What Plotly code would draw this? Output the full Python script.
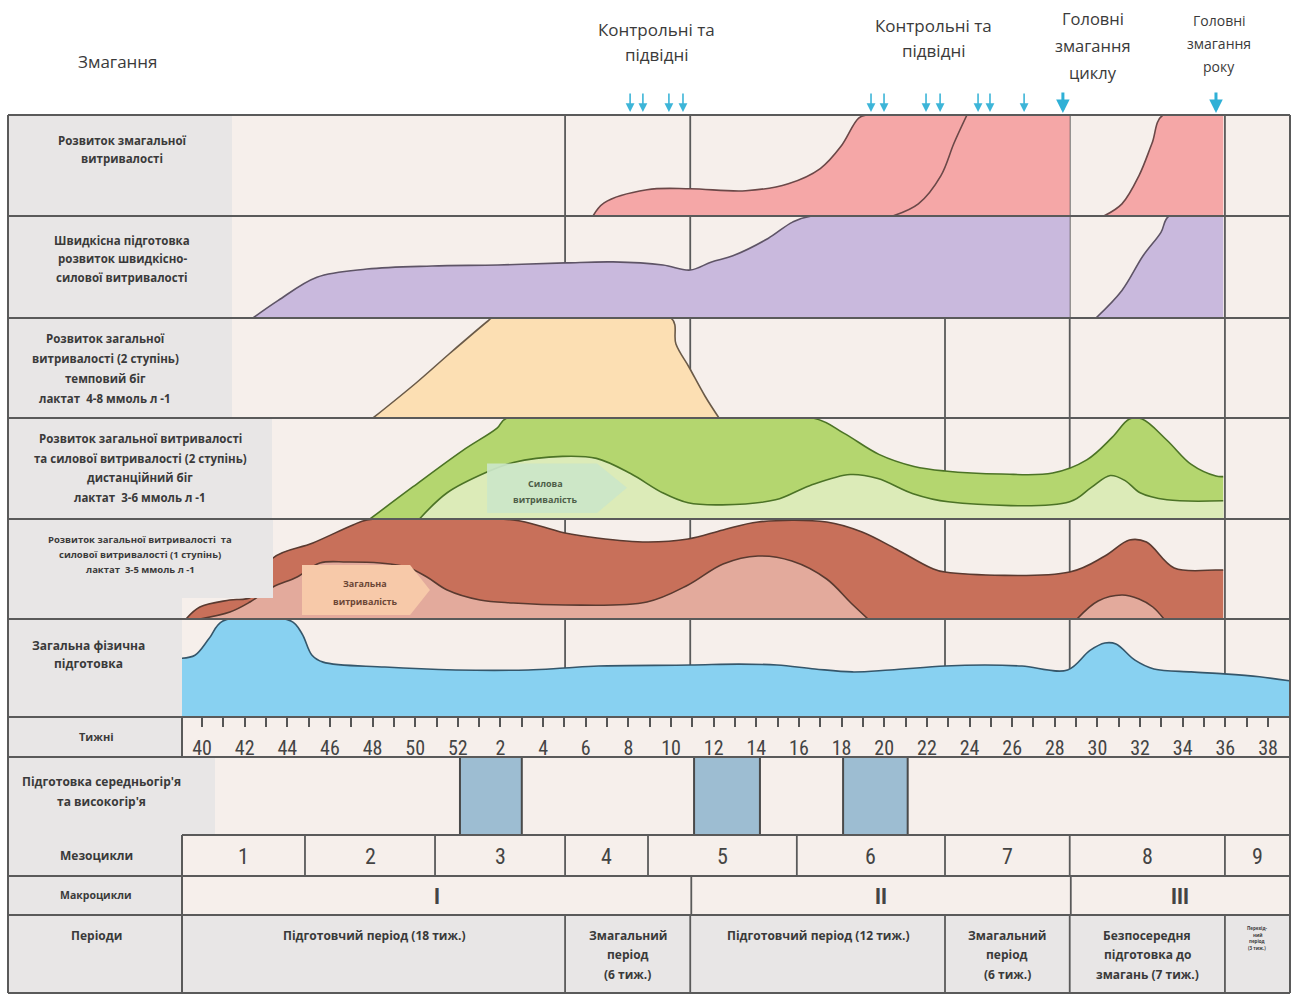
import plotly.graph_objects as go

W, H = 1294, 994

# x = week index: 0 = week 40, 12 = week 52, 14 = week 2 ... 50 = week 38
tick_vals = list(range(0, 51, 2))
tick_text = ["40", "42", "44", "46", "48", "50", "52",
             "2", "4", "6", "8", "10", "12", "14", "16", "18", "20",
             "22", "24", "26", "28", "30", "32", "34", "36", "38"]

# competitions (arrows)
control_x = [20.08, 20.68, 21.9, 22.56, 31.38, 31.99, 33.96, 34.62, 36.4, 36.96, 38.56]
main_x = [40.38, 47.56]

# row 1 - competitive endurance
comp_x = [18.34, 18.86, 20.87, 22.9, 25.5, 27.5, 29.0, 29.97, 30.8, 31.2, 40.7]
comp_y = [0, 0.13, 0.26, 0.27, 0.25, 0.32, 0.47, 0.69, 0.97, 1.0, 1.0]
comp_split_x = [32.4, 33.6, 34.66, 35.27, 35.88]
comp_split_y = [0, 0.12, 0.40, 0.72, 1.0]
comp2_x = [42.3, 43.15, 43.95, 44.56, 45.07, 47.9]
comp2_y = [0, 0.12, 0.40, 0.72, 1.0, 1.0]

# row 2 - speed / speed-strength endurance
speed_x = [2.39, 3.56, 5.39, 7.74, 10.79, 13.88, 17.03, 19.28, 21.62, 22.9, 23.9,
           24.9, 26.55, 27.7, 28.6, 40.7]
speed_y = [0, 0.17, 0.40, 0.48, 0.51, 0.52, 0.54, 0.55, 0.52, 0.47, 0.55,
           0.61, 0.78, 0.94, 1.0, 1.0]
speed2_x = [41.93, 43.15, 44.14, 44.98, 45.36, 47.9]
speed2_y = [0, 0.27, 0.61, 0.84, 1.0, 1.0]

# row 3 - tempo run
tempo_x = [8.02, 10.04, 11.59, 13.41, 13.6, 22.0, 22.23, 22.84, 23.59, 24.25]
tempo_y = [0, 0.35, 0.64, 0.97, 1.0, 1.0, 0.74, 0.51, 0.22, 0]

# row 4 - distance run (outer) and strength endurance (inner)
dist_x = [7.88, 9.9, 12.24, 13.84, 14.3, 28.66, 30.1, 31.75, 33.4, 34.85, 37.5, 39.9,
          41.5, 42.7, 43.5, 44.1, 45.26, 46.4, 47.56, 47.9]
dist_y = [0, 0.32, 0.68, 0.90, 1.0, 1.0, 0.85, 0.64, 0.52, 0.475, 0.445, 0.455,
          0.585, 0.81, 0.99, 0.99, 0.78, 0.54, 0.425, 0.42]
str_x = [10.2, 11.5, 13.37, 14.6, 16.9, 18.5, 20.1, 21.6, 22.8, 24.4, 26.9, 28.5,
         30.4, 31.7, 33.35, 35.0, 40.7, 41.7, 42.6, 43.3, 44.0, 45.26, 47.9]
str_y = [0, 0.26, 0.465, 0.56, 0.62, 0.60, 0.45, 0.26, 0.16, 0.14, 0.19, 0.33,
         0.44, 0.40, 0.25, 0.17, 0.17, 0.31, 0.43, 0.38, 0.26, 0.19, 0.18]

# row 5 - general endurance 1st stage (outer) and general endurance (inner)
gen_x = [-0.75, -0.1, 1.3, 2.3, 3.33, 5.2, 7.08, 7.74, 14.59, 16.18, 17.03, 18.53,
         20.87, 22.8, 24.44, 26.08, 29.3, 30.96, 32.55, 34.2, 34.85, 40.7, 42.35,
         43.5, 44.3, 45.6, 47.56, 47.9]
gen_y = [0, 0.12, 0.19, 0.22, 0.61, 0.76, 0.94, 0.99, 0.99, 0.91, 0.86, 0.81,
         0.77, 0.80, 0.89, 0.97, 0.97, 0.87, 0.70, 0.51, 0.47, 0.47, 0.63,
         0.79, 0.77, 0.51, 0.49, 0.49]
gen_in_x = [-0.1, 1.31, 2.25, 3.33, 4.46, 5.53, 6.8, 8.35, 9.6, 10.55, 11.5, 13.04,
            14.6, 17.03, 20.87, 22.8, 24.44, 26.08, 27.67, 29.3, 30.44, 31.24]
gen_in_y = [0, 0.07, 0.17, 0.32, 0.42, 0.56, 0.57, 0.56, 0.52, 0.42, 0.29, 0.19,
            0.16, 0.14, 0.17, 0.34, 0.55, 0.63, 0.58, 0.40, 0.16, 0]
gen_in2_x = [41.04, 42.03, 43.15, 43.95, 44.6, 45.12]
gen_in2_y = [0, 0.18, 0.24, 0.20, 0.12, 0]

# row 6 - general physical preparation
gpp_x = [-0.94, -0.33, 0.33, 0.98, 4.17, 4.69, 5.16, 5.68, 8.58, 11.9, 15.3, 17.0,
         18.6, 22.9, 25.2, 26.97, 28.75, 30.5, 32.27, 34.85, 36.73, 38.46, 40.6,
         41.65, 42.35, 42.87, 43.76, 44.65, 46.4, 47.94, 49.6, 51.0]
gpp_y = [0.60, 0.63, 0.80, 0.98, 0.98, 0.85, 0.63, 0.56, 0.51, 0.48, 0.48, 0.50,
         0.52, 0.53, 0.54, 0.53, 0.49, 0.46, 0.48, 0.52, 0.53, 0.52, 0.48,
         0.68, 0.755, 0.745, 0.58, 0.49, 0.46, 0.44, 0.41, 0.37]

# altitude training blocks
alt_start = [12.1, 23.08, 30.07]
alt_end = [15.0, 26.17, 33.1]

# table rows
meso_edges = [-0.94, 4.83, 10.93, 17.03, 20.92, 27.9, 34.85, 40.7, 47.98, 51.0]
meso_labels = ["1", "2", "3", "4", "5", "6", "7", "8", "9"]
macro_edges = [-0.94, 22.95, 40.75, 51.0]
macro_labels = ["I", "II", "III"]
period_edges = [-0.94, 17.03, 22.9, 34.85, 40.7, 47.98, 51.0]
period_labels = [
    ["Підготовчий період (18 тиж.)"],
    ["Змагальний", "період", "(6 тиж.)"],
    ["Підготовчий період (12 тиж.)"],
    ["Змагальний", "період", "(6 тиж.)"],
    ["Безпосередня", "підготовка до", "змагань (7 тиж.)"],
    ["Перехід-", "ний", "період", "(3 тиж.)"],
]
stage_lines = [17.03, 22.9, 34.85, 40.7, 47.98]

row_labels = [
    ["Розвиток змагальної", "витривалості"],
    ["Швидкісна підготовка", "розвиток швидкісно-", "силової витривалості"],
    ["Розвиток загальної", "витривалості (2 ступінь)", "темповий біг",
     "лактат  4-8 ммоль л -1"],
    ["Розвиток загальної витривалості", "та силової витривалості (2 ступінь)",
     "дистанційний біг", "лактат  3-6 ммоль л -1"],
    ["Розвиток загальної витривалості  та", "силової витривалості (1 ступінь)",
     "лактат  3-5 ммоль л -1"],
    ["Загальна фізична", "підготовка"],
    ["Тижні"],
    ["Підготовка середньогір'я", "та високогір'я"],
    ["Мезоцикли"],
    ["Макроцикли"],
    ["Періоди"],
]

# ---------------- layout helpers ----------------
ROWS = [115, 216, 318, 418, 519, 619, 717, 757, 835, 876, 915, 993]
GRID = "#5a5a5a"
BG = "#f6efeb"
GREY = "#e8e6e6"
TXT = "#3a3a3a"
FONT = "Open Sans, Noto Sans, sans-serif"
NARROW = "Liberation Sans Narrow, Roboto Condensed, Roboto, sans-serif"


def px(x):
    return x / W


def py(y):
    return 1 - y / H


def u(x):
    return (x - 202) / 21.32


fig = go.Figure()


def area(x, y, ax, fill, line, fillmode="tozeroy"):
    fig.add_trace(go.Scatter(
        x=x, y=y, xaxis="x", yaxis=ax, mode="lines",
        line=dict(shape="spline", smoothing=1, color=line, width=1.6),
        fill=fillmode, fillcolor=fill, hoverinfo="skip"))


area(comp_x, comp_y, "y", "#f5a7a7", "#6b4848")
area(comp2_x, comp2_y, "y", "#f5a7a7", "#6b4848")
area(comp_split_x, comp_split_y, "y", None, "#6b4848", fillmode="none")
area(speed_x, speed_y, "y2", "#c9b9dd", "#5e5466")
area(speed2_x, speed2_y, "y2", "#c9b9dd", "#5e5466")
area(tempo_x, tempo_y, "y3", "#fcdfb3", "#6a5a48")
area(dist_x, dist_y, "y4", "#b4d66f", "#4c7326")
area(str_x, str_y, "y4", "#dcebb8", "#4c7326")
area(gen_x, gen_y, "y5", "#c8705a", "#5a3a30")
area(gen_in_x, gen_in_y, "y5", "#e3aa9c", "#5a3a30")
area(gen_in2_x, gen_in2_y, "y5", "#e3aa9c", "#5a3a30")
area(gpp_x, gpp_y, "y6", "#88d1f1", "#35566a")

fig.add_trace(go.Bar(
    x=[(a + b) / 2 for a, b in zip(alt_start, alt_end)],
    y=[1] * len(alt_start),
    width=[b - a for a, b in zip(alt_start, alt_end)],
    xaxis="x", yaxis="y7",
    marker=dict(color="#9dbdd2", line=dict(color="#4a4a4a", width=2)),
    hoverinfo="skip"))

shapes = []


def rect(x0, y0, x1, y1, color, layer="below"):
    shapes.append(dict(type="rect", xref="paper", yref="paper",
                       x0=px(x0), x1=px(x1), y0=py(y1), y1=py(y0),
                       fillcolor=color, line_width=0, layer=layer))


def hline(y, x0=8, x1=1290, width=2):
    shapes.append(dict(type="line", xref="paper", yref="paper",
                       x0=px(x0), x1=px(x1), y0=py(y), y1=py(y),
                       line=dict(color=GRID, width=width), layer="above"))


def vline_px(x, y0, y1, width=2):
    shapes.append(dict(type="line", xref="paper", yref="paper",
                       x0=px(x), x1=px(x), y0=py(y1), y1=py(y0),
                       line=dict(color=GRID, width=width), layer="above"))


def vline_u(x, y0, y1, layer="above", width=1.8):
    shapes.append(dict(type="line", xref="x", yref="paper",
                       x0=x, x1=x, y0=py(y1), y1=py(y0),
                       line=dict(color=GRID, width=width), layer=layer))


# backgrounds
rect(182, 115, 1290, 993, BG)
for i, right in enumerate([232, 232, 232, 272]):
    rect(8, ROWS[i], right, ROWS[i + 1], GREY)
rect(8, 598, 182, 619, GREY)
rect(8, 619, 182, 717, GREY)
rect(8, 717, 182, 757, GREY)
rect(8, 757, 215, 835, GREY)
rect(8, 835, 182, 915, GREY)
rect(8, 915, 1290, 993, GREY)

# stage lines inside the curve panels
for i in range(6):
    for s in stage_lines:
        if i < 2 and s == 34.85:
            continue
        vline_u(s, ROWS[i], ROWS[i + 1], layer="below")

# grey label box overlapping the 5th panel
rect(8, 519, 273, 598, GREY, layer="above")

# tags inside panels
shapes.append(dict(type="path", xref="x", yref="y4", layer="above",
                   path="M 13.37 0.06 L 13.37 0.55 L 18.53 0.55 L 19.93 0.31 L 18.53 0.06 Z",
                   fillcolor="rgba(203,230,200,0.92)", line_width=0))
shapes.append(dict(type="path", xref="x", yref="y5", layer="above",
                   path="M 4.69 0.04 L 4.69 0.54 L 9.76 0.54 L 10.69 0.29 L 9.76 0.04 Z",
                   fillcolor="#f7c9a9", line_width=0))

# table cell edges
for e in meso_edges[1:-1]:
    vline_u(e, 835, 876)
for e in macro_edges[1:-1]:
    vline_u(e, 876, 915)
for e in period_edges[1:-1]:
    vline_u(e, 915, 993)

# grid
for y in ROWS:
    hline(y, x0=182 if y == 835 else 8)
vline_px(8, 115, 993)
vline_px(1290, 115, 993)
vline_px(182, 717, 757)
vline_px(182, 835, 993)

annotations = []


def text(x, y, s, size, bold=False, family=FONT, color=TXT):
    annotations.append(dict(x=px(x), y=py(y), xref="paper", yref="paper",
                            text=f"<b>{s}</b>" if bold else s, showarrow=False,
                            xanchor="center", yanchor="middle",
                            font=dict(size=size, family=family, color=color)))


def utext(x, y, s, size, family=FONT, color=TXT):
    annotations.append(dict(x=x, y=py(y), xref="x", yref="paper", text=s,
                            showarrow=False, xanchor="center", yanchor="middle",
                            font=dict(size=size, family=family, color=color)))


# header
text(118, 62, "Змагання", 17)
text(657, 30, "Контрольні та", 17)
text(657, 55, "підвідні", 17)
text(933, 25, "Контрольні та", 17)
text(933, 50, "підвідні", 17)
for k, s in enumerate(["Головні", "змагання", "циклу"]):
    text(1093, 18 + 27 * k, s, 16.5)
for k, s in enumerate(["Головні", "змагання", "року"]):
    text(1219, 20 + 23.5 * k, s, 14)

for xv in control_x:
    annotations.append(dict(x=xv, y=py(112), xref="x", yref="paper", text="",
                            showarrow=True, ax=0, ay=-20, arrowhead=2, arrowsize=1.1,
                            arrowwidth=1.6, arrowcolor="#3db5d8"))
for xv in main_x:
    annotations.append(dict(x=xv, y=py(113), xref="x", yref="paper", text="",
                            showarrow=True, ax=0, ay=-22, arrowhead=2, arrowsize=0.9,
                            arrowwidth=3, arrowcolor="#2fb0d6"))

# row labels
place = [(122, 140, 18, 11.5), (122, 240, 18.5, 11.5), (105, 339, 19.7, 11.5),
         (140, 438, 20, 11.5), (140, 539, 15, 9.5), (88, 645, 18, 12),
         (96, 736, 0, 11), (102, 781, 20, 12), (96, 855, 0, 12),
         (96, 895, 0, 10.5), (96, 935, 0, 12)]
for lines, (cx, y0, pitch, size) in zip(row_labels, place):
    for k, s in enumerate(lines):
        text(cx, y0 + pitch * k, s, size, bold=True)

# tag texts
text(545, 483, "Силова", 9, bold=True, color="#4d5e48")
text(545, 500, "витривалість", 9, bold=True, color="#4d5e48")
text(365, 583, "Загальна", 9, bold=True, color="#6b4636")
text(365, 601, "витривалість", 9, bold=True, color="#6b4636")

# meso / macro / periods
for a, b, s in zip(meso_edges[:-1], meso_edges[1:], meso_labels):
    utext((a + b) / 2, 856, s, 22, family=NARROW, color="#444")
for a, b, s in zip(macro_edges[:-1], macro_edges[1:], macro_labels):
    utext((a + b) / 2, 896, f"<b>{s}</b>", 22, family=NARROW, color="#444")
for a, b, lines in zip(period_edges[:-1], period_edges[1:], period_labels):
    tiny = len(lines) == 4
    for k, s in enumerate(lines):
        yy = (928 + 6.5 * k) if tiny else (935 + 19.5 * k)
        utext((a + b) / 2, yy, f"<b>{s}</b>", 4.5 if tiny else 12)

layout = dict(
    width=W, height=H, margin=dict(l=0, r=0, t=0, b=0),
    paper_bgcolor="white", plot_bgcolor="rgba(0,0,0,0)",
    showlegend=False, hovermode=False,
    shapes=shapes, annotations=annotations,
    xaxis=dict(domain=[px(182), px(1290)], range=[u(182), u(1290)],
               anchor="free", position=py(717), showgrid=False, zeroline=False,
               showline=False, fixedrange=True,
               tickmode="array", tickvals=tick_vals, ticktext=tick_text,
               ticks="outside", ticklen=9, tickwidth=1.5, tickcolor="#555",
               ticklabelstandoff=4,
               tickfont=dict(size=20, family=NARROW, color="#444"),
               minor=dict(tickmode="array", tickvals=list(range(51)), ticks="outside",
                          ticklen=9, tickwidth=1.5, tickcolor="#555", showgrid=False)),
)
axes = ["yaxis", "yaxis2", "yaxis3", "yaxis4", "yaxis5", "yaxis6"]
for i, name in enumerate(axes):
    layout[name] = dict(domain=[py(ROWS[i + 1]), py(ROWS[i])], range=[0, 1],
                        visible=False, fixedrange=True, anchor="x")
layout["yaxis7"] = dict(domain=[py(835), py(757)], range=[0, 1], visible=False,
                        fixedrange=True, anchor="x")
fig.update_layout(**layout)

# page margin off so the figure fills the window exactly
fig.write_html("out.html", config={"displayModeBar": False},
               post_script="document.body.style.margin='0px';")
